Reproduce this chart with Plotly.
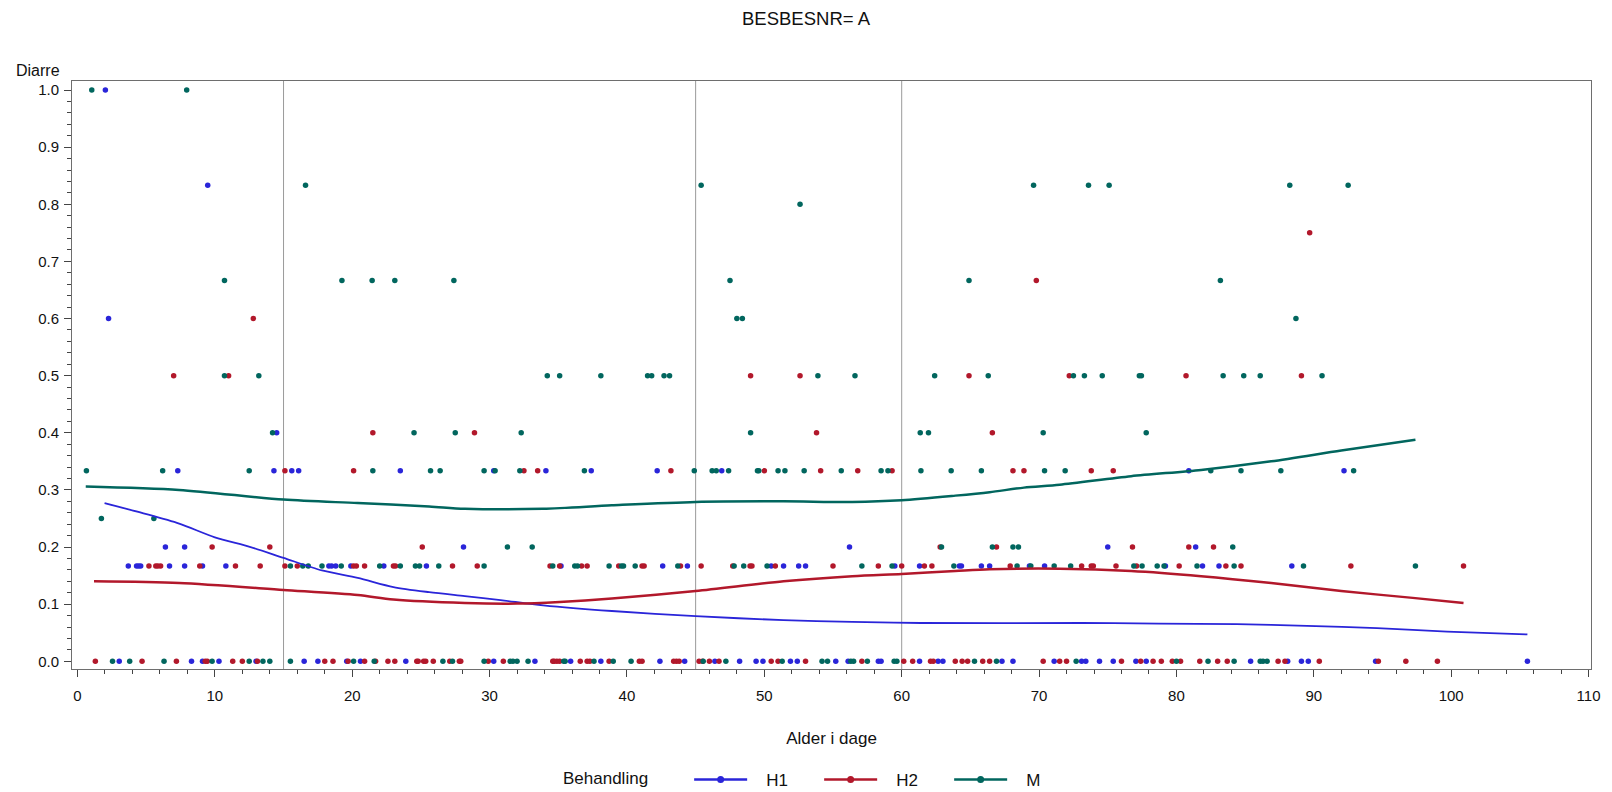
import plotly.graph_objects as go

# ---------------- data ----------------
S, T, TT, F = 1/6, 1/3, 2/3, 5/6

h1_alder = (
    [2.03] + [9.48] + [2.26] + [14.5] +
    [7.3, 14.3, 15.6, 16.1, 23.5, 30.3, 34.1, 37.4, 42.2, 46.9, 80.9, 92.2] +
    [6.4, 7.8, 28.1, 56.2, 75.0, 81.4] +
    [3.7, 4.3, 4.45, 4.6, 6.7, 7.8, 9.1, 10.8, 18.3, 18.5, 18.8, 19.9, 22.3, 25.4,
     35.2, 42.6, 44.4, 50.5, 51.4, 52.5, 53.0, 59.5, 61.3, 64.2, 64.35, 65.8, 66.4,
     69.3, 70.4, 79.2, 81.9, 83.1, 88.4] +
    [3.04, 8.3, 9.1, 10.3, 13.0, 16.5, 17.5, 19.6, 20.6, 23.9, 30.3, 33.3, 35.9, 38.1,
     42.4, 44.2, 46.4, 48.2, 49.4, 49.9, 51.9, 52.4, 55.2, 56.1, 58.3, 58.5, 61.3,
     62.65, 63.0, 67.3, 68.1, 71.1, 73.1, 73.4, 74.4, 75.4, 77.05, 77.8, 85.4, 88.1,
     89.1, 89.6, 94.5, 105.55]
)
h1_diarre = (
    [1.0] + [F] + [0.6] + [0.4] + [T] * 12 + [0.2] * 6 + [S] * 33 + [0.0] * 44
)

h2_alder = (
    [89.7] + [69.8] + [12.8] +
    [7.0, 11.0, 49.0, 52.6, 64.9, 72.2, 80.7, 89.1] +
    [21.5, 28.9, 53.8, 66.6] +
    [15.1, 20.1, 32.5, 33.5, 43.2, 50.0, 54.1, 56.8, 59.3, 68.1, 68.9, 73.8, 75.4] +
    [9.8, 14.0, 25.1, 62.8, 66.9, 76.8, 80.9, 82.7] +
    [5.2, 5.7, 5.85, 6.05, 8.9, 11.5, 13.3, 15.1, 16.0, 20.1, 20.3, 20.9, 23.0, 23.15,
     27.3, 29.1, 34.4, 35.1, 36.7, 37.1, 39.4, 41.1, 41.25, 43.9, 45.4, 47.7, 48.96,
     49.1, 50.8, 55.0, 58.3, 60.0, 61.65, 62.2, 67.9, 73.1, 73.8, 73.95, 75.6, 77.1,
     80.2, 83.6, 84.7, 92.7, 100.9] +
    [1.3, 4.7, 7.2, 9.3, 9.45, 11.3, 12.0, 13.1, 18.0, 18.6, 19.7, 20.9, 21.7, 22.6,
     23.1, 24.7, 24.8, 25.2, 25.35, 25.9, 27.1, 27.8, 27.9, 29.9, 31.0, 34.6, 34.7,
     34.9, 35.1, 36.6, 37.1, 37.3, 38.7, 40.9, 41.1, 43.4, 43.6, 43.8, 45.25, 45.5,
     46.0, 46.7, 50.5, 51.0, 53.0, 57.1, 60.15, 60.8, 62.1, 62.3, 63.9, 64.4, 64.8,
     65.9, 66.4, 70.3, 71.5, 72.0, 76.0, 77.4, 78.3, 78.9, 79.7, 80.3, 81.7, 83.0,
     83.7, 87.4, 87.9, 90.4, 94.7, 96.7, 99.0]
)
h2_diarre = (
    [0.75] + [TT] + [0.6] + [0.5] * 8 + [0.4] * 4 + [T] * 13 + [0.2] * 8 +
    [S] * 45 + [0.0] * 73
)

m_alder = (
    [1.04, 7.95] +
    [16.6, 45.4, 69.6, 73.6, 75.1, 88.25, 92.5] +
    [52.6] +
    [10.7, 19.25, 21.45, 23.1, 27.4, 47.5, 64.9, 83.2] +
    [48.0, 48.4, 88.7] +
    [10.7, 13.2, 34.2, 35.1, 38.1, 41.5, 41.8, 42.7, 43.1, 53.9, 56.6, 62.4, 66.3,
     72.5, 73.3, 74.6, 77.3, 77.45, 83.4, 84.9, 86.1, 90.6] +
    [14.2, 24.5, 27.5, 32.3, 49.0, 61.35, 61.95, 70.3, 77.8] +
    [0.65, 6.2, 12.5, 21.5, 25.7, 26.4, 29.6, 30.4, 32.2, 36.9, 44.9, 46.2, 46.5,
     47.4, 49.5, 49.6, 51.0, 51.5, 52.9, 55.6, 58.5, 59.0, 61.4, 63.6, 65.8, 70.4,
     71.9, 82.5, 84.7, 87.6, 92.9] +
    [1.74, 5.56] +
    [31.3, 33.1, 62.9, 66.6, 68.1, 68.5, 84.1] +
    [15.5, 16.4, 16.8, 17.8, 19.2, 22.0, 23.5, 24.6, 24.9, 26.3, 29.6, 34.6, 36.2,
     36.4, 38.7, 39.6, 39.75, 40.6, 43.7, 47.8, 48.5, 50.2, 57.1, 59.3, 63.8, 68.4,
     69.4, 71.1, 72.3, 76.9, 77.5, 78.6, 79.1, 81.5, 84.2, 89.25, 97.4] +
    [2.55, 3.8, 6.3, 9.8, 12.5, 13.5, 14.0, 15.5, 20.1, 21.6, 26.6, 27.3, 29.6, 31.5,
     31.7, 32.0, 32.8, 35.4, 35.5, 37.6, 39.0, 40.3, 45.55, 47.2, 51.3, 54.2, 54.6,
     56.3, 56.5, 57.5, 59.45, 59.65, 65.3, 66.9, 72.7, 80.0, 82.3, 84.2, 86.1, 86.3,
     86.6]
)
m_diarre = (
    [1.0] * 2 + [F] * 7 + [0.8] + [TT] * 8 + [0.6] * 3 + [0.5] * 22 + [0.4] * 9 +
    [T] * 31 + [0.25] * 2 + [0.2] * 7 + [S] * 37 + [0.0] * 41
)

# loess fit curves
h1_fit_x = [1.97, 4.8, 7.4, 10.0, 12.6, 15, 17.8, 20.4, 23.0, 25.6, 28.2, 30.8, 33.9,
            38.9, 45, 51.4, 56.4, 61.4, 73.1, 78.7, 84.4, 89.5, 94.6, 99.7, 105.55]
h1_fit_y = [0.277, 0.259, 0.241, 0.217, 0.200, 0.181, 0.159, 0.146, 0.130, 0.121, 0.114,
            0.107, 0.098, 0.088, 0.079, 0.072, 0.069, 0.067, 0.067, 0.066, 0.065, 0.062,
            0.058, 0.052, 0.047]
h2_fit_x = [1.2, 7.4, 15, 20.4, 23, 28.2, 32, 35.1, 38.9, 45, 51.4, 56.4, 60, 63.9, 66.4,
            71.5, 76.7, 81.8, 86.9, 92.0, 97.2, 100.9]
h2_fit_y = [0.140, 0.137, 0.125, 0.116, 0.108, 0.102, 0.101, 0.104, 0.110, 0.123, 0.140,
            0.149, 0.153, 0.158, 0.161, 0.162, 0.158, 0.149, 0.137, 0.123, 0.111, 0.102]
m_fit_x = [0.6, 7.4, 15, 20.4, 25.6, 28.2, 33.9, 38.9, 45, 51.4, 56.4, 60, 63.9, 66.4,
           68.9, 71.5, 76.7, 81.8, 86.9, 92.0, 97.4]
m_fit_y = [0.306, 0.300, 0.283, 0.277, 0.271, 0.267, 0.267, 0.273, 0.279, 0.280, 0.279,
           0.282, 0.290, 0.296, 0.304, 0.309, 0.324, 0.335, 0.350, 0.369, 0.388]

groups = ["H1", "H2", "M"]
ref_lines = [15, 45, 60]
x_ticks = list(range(0, 111, 10))
y_ticks = [i / 10 for i in range(11)]

# ---------------- figure ----------------
colors = {"H1": "#2A25D9", "H2": "#B2182B", "M": "#01665E"}
FONT = "Liberation Sans, Arial, sans-serif"
NB = "\u00a0"

points = {"H1": (h1_alder, h1_diarre), "H2": (h2_alder, h2_diarre), "M": (m_alder, m_diarre)}
fits = {"H1": (h1_fit_x, h1_fit_y), "H2": (h2_fit_x, h2_fit_y), "M": (m_fit_x, m_fit_y)}

fig = go.Figure()
for g in groups:
    xs, ys = points[g]
    fig.add_trace(go.Scatter(x=xs, y=ys, mode="markers", showlegend=False,
                             marker=dict(color=colors[g], size=5.5, line=dict(width=0)),
                             hoverinfo="skip"))
for g in groups:
    xs, ys = fits[g]
    fig.add_trace(go.Scatter(x=xs, y=ys, mode="lines", showlegend=False,
                             line=dict(color=colors[g], width=1.8 if g == "H1" else 2.5,
                                       shape="spline", smoothing=0.8),
                             hoverinfo="skip"))
for g in groups:
    fig.add_trace(go.Scatter(x=[None], y=[None], mode="lines+markers", name=NB * 3 + g,
                             line=dict(color=colors[g], width=2.5),
                             marker=dict(color=colors[g], size=7)))

for xv in ref_lines:
    fig.add_vline(x=xv, line=dict(color="#9a9a9a", width=1), layer="below")

axis_common = dict(showline=True, linecolor="#6e6e6e", linewidth=1, mirror=True,
                   ticks="outside", ticklen=7, tickcolor="#444", tickwidth=1,
                   showgrid=False, zeroline=False,
                   tickfont=dict(family=FONT, size=15, color="#111"))

fig.update_xaxes(range=[-0.4, 110.18], tickvals=x_ticks, ticklabelstandoff=6,
                 minor=dict(dtick=2, tick0=0, ticks="outside", ticklen=4, tickcolor="#444",
                            showgrid=False),
                 title=dict(text="Alder i dage", font=dict(family=FONT, size=17, color="#111"),
                            standoff=29),
                 **axis_common)
fig.update_yaxes(range=[-0.0135, 1.0158], tickvals=y_ticks, tickformat=".1f",
                 ticklabelstandoff=2,
                 minor=dict(dtick=0.02, tick0=0, ticks="outside", ticklen=4, tickcolor="#444",
                            showgrid=False),
                 **axis_common)

fig.update_layout(
    width=1612, height=792,
    margin=dict(l=72, r=21, t=81, b=123),
    paper_bgcolor="white", plot_bgcolor="white",
    font=dict(family=FONT, color="#111"),
    title=dict(text="BESBESNR= A", x=0.5, xref="container", xanchor="center",
               y=1 - 19 / 792, yref="container", yanchor="middle",
               font=dict(family=FONT, size=18.5, color="#111")),
    legend=dict(orientation="h", xref="container", x=0.509, xanchor="center",
                yref="container", y=12 / 792, yanchor="middle",
                title=dict(text="Behandling" + NB * 7,
                           font=dict(family=FONT, size=17, color="#111"), side="left"),
                font=dict(family=FONT, size=17, color="#111"),
                itemwidth=53, entrywidth=62, bgcolor="rgba(0,0,0,0)"),
    annotations=[dict(text="Diarre", xref="paper", yref="paper", x=-0.0066, y=1.0187,
                      xanchor="right", yanchor="middle", showarrow=False,
                      font=dict(family=FONT, size=16, color="#111"))],
)

fig.write_html("out.html", config={"displayModeBar": False})
